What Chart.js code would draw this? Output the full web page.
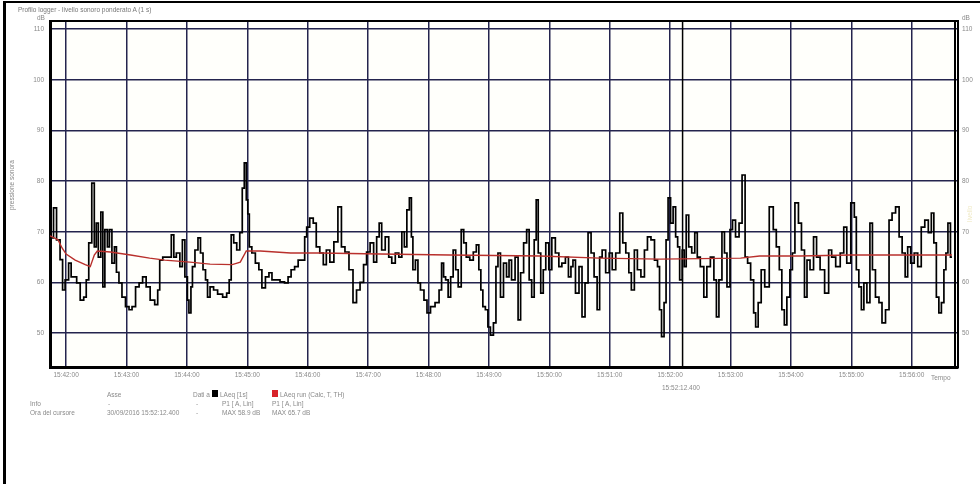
<!DOCTYPE html>
<html>
<head>
<meta charset="utf-8">
<script src="https://cdn.jsdelivr.net/npm/chart.js@4"></script>
<style>
  body { margin: 0; background: #fff; font-family: "Liberation Sans", Arial, sans-serif; }
  #wrap { position: relative; width: 980px; height: 484px; overflow: hidden; }
  #frame { position: absolute; left: 3px; top: 1px; width: 980px; height: 490px; border-left: 3px solid #000; border-top: 2px solid #000; }
  canvas { position: absolute; left: 0; top: 0; }
  .t { position: absolute; font-size: 6.5px; color: #8a8a8a; white-space: nowrap; }
  .sq { position: absolute; width: 6px; height: 7px; }
</style>
</head>
<body>
<div id="wrap">
  <div id="frame"></div>
  <canvas id="myChart" width="980" height="484"></canvas>

  <div class="t" style="left:18px;top:6px;color:#777">Profilo logger - livello sonoro ponderato A (1 s)</div>
  <div class="t" style="left:37px;top:14px">dB</div>
  <div class="t" style="left:962px;top:14px">dB</div>
  <div class="t" style="left:8px;top:210px;transform:rotate(-90deg);transform-origin:left top">pressione sonora</div>
  <div class="t" style="left:966px;top:222px;transform:rotate(-90deg);transform-origin:left top;color:#efe9c4">livello</div>
  <div class="t" style="left:931px;top:374px">Tempo</div>
  <div class="t" style="left:662px;top:384px">15:52:12.400</div>

  <div class="t" style="left:107px;top:391px">Asse</div>
  <div class="t" style="left:30px;top:400px">Info</div>
  <div class="t" style="left:108px;top:400px">-</div>
  <div class="t" style="left:30px;top:409px">Ora del cursore</div>
  <div class="t" style="left:107px;top:409px">30/09/2016 15:52:12.400</div>

  <div class="t" style="left:193px;top:391px">Dati a</div>
  <div class="sq" style="left:212px;top:390px;background:#000"></div>
  <div class="t" style="left:220px;top:391px">LAeq [1s]</div>
  <div class="sq" style="left:272px;top:390px;background:#d8232a"></div>
  <div class="t" style="left:280px;top:391px">LAeq run (Calc, T, TH)</div>
  <div class="t" style="left:196px;top:400px">-</div>
  <div class="t" style="left:222px;top:400px">P1 [ A, Lin]</div>
  <div class="t" style="left:272px;top:400px">P1 [ A, Lin]</div>
  <div class="t" style="left:196px;top:409px">-</div>
  <div class="t" style="left:222px;top:409px">MAX 58.9 dB</div>
  <div class="t" style="left:272px;top:409px">MAX 65.7 dB</div>
</div>

<script>
// seconds after 15:42:00
let tickTimes = [0, 60, 120, 180, 240, 300, 360, 420, 480, 540, 600, 660, 720, 780, 840];
let tickLabels = ["15:42:00", "15:43:00", "15:44:00", "15:45:00", "15:46:00", "15:47:00", "15:48:00",
    "15:49:00", "15:50:00", "15:51:00", "15:52:00", "15:53:00", "15:54:00", "15:55:00", "15:56:00"];
let dbTicks = [50, 60, 70, 80, 90, 100, 110];
let cursorTime = 612.4;

// LAeq 1s (black)
let laeqTime = [-14, -11, -8, -4, -3, 1, 4, 6, 9, 12, 16, 19, 21, 24, 27, 29, 31, 33, 36, 37,
    40, 42, 44, 47, 49, 51, 54, 57, 61, 64, 67, 71, 74, 78, 81, 86, 90, 92, 94, 98,
    103, 106, 108, 111, 115, 116, 120, 121, 123, 125, 126, 130, 132, 135, 137, 140, 141, 145, 148, 153,
    158, 161, 163, 165, 168, 171, 174, 176, 178, 180, 181, 183, 186, 190, 193, 196, 200, 203, 206, 210,
    215, 219, 222, 225, 229, 232, 236, 238, 240, 244, 247, 250, 254, 257, 260, 264, 268, 272, 275, 279,
    283, 287, 290, 294, 297, 300, 304, 307, 310, 312, 315, 319, 322, 325, 329, 332, 335, 337, 340, 342,
    344, 345, 349, 350, 354, 357, 360, 364, 369, 372, 374, 376, 378, 381, 383, 386, 388, 391, 394, 396,
    399, 403, 406, 409, 411, 413, 415, 418, 420, 423, 426, 428, 430, 433, 436, 439, 441, 444, 448, 450,
    453, 456, 459, 461, 464, 466, 468, 470, 473, 475, 478, 481, 484, 488, 491, 494, 498, 500, 503, 504,
    508, 511, 514, 517, 520, 523, 526, 529, 531, 534, 538, 541, 544, 548, 552, 554, 558, 560, 563, 566,
    569, 573, 576, 579, 583, 586, 589, 590, 593, 595, 597, 599, 602, 604, 607, 608, 611, 613, 615, 617,
    620, 623, 626, 628, 632, 635, 638, 642, 645, 647, 650, 653, 655, 658, 661, 663, 667, 670, 673, 676,
    678, 682, 684, 686, 689, 692, 696, 701, 704, 707, 710, 712, 715, 717, 721, 722, 726, 729, 732, 735,
    737, 741, 744, 747, 751, 756, 759, 762, 767, 771, 774, 777, 782, 784, 786, 789, 791, 794, 797, 800,
    802, 806, 809, 812, 816, 819, 822, 826, 829, 832, 835, 837, 841, 844, 848, 851, 855, 858, 861, 863,
    866, 868, 871, 873, 875, 877, 880];
let laeqValues = [68.8, 74.7, 68.4, 64.5, 58.5, 60.5, 63.8, 61.1, 61.1, 59.9, 56.5, 57.1, 60.5, 67.8, 79.6, 67.0, 71.7, 65.0, 73.9, 59.1,
    70.4, 67.0, 70.4, 63.8, 67.0, 62.0, 59.9, 57.1, 55.2, 54.6, 55.2, 59.1, 59.9, 61.1, 59.1, 56.5, 55.6, 58.5, 64.4, 65.0,
    65.0, 69.4, 65.0, 65.8, 63.1, 68.4, 61.1, 56.5, 54.0, 59.1, 63.1, 66.4, 68.8, 65.8, 62.5, 60.5, 57.1, 59.1, 58.5, 57.7,
    57.1, 57.9, 60.5, 69.4, 67.8, 66.4, 69.8, 78.6, 83.6, 76.3, 73.5, 67.0, 65.8, 63.8, 62.5, 58.9, 61.1, 61.9, 60.5, 60.5,
    60.1, 59.9, 61.1, 62.5, 63.1, 64.4, 64.4, 69.0, 70.9, 72.7, 71.7, 67.0, 65.8, 63.5, 66.4, 64.0, 68.0, 74.9, 67.0, 66.0,
    62.5, 56.0, 58.5, 60.0, 63.5, 66.0, 67.8, 64.0, 69.0, 71.7, 66.4, 69.0, 65.0, 63.8, 65.8, 65.0, 70.0, 67.0, 74.3, 76.7,
    69.0, 62.5, 64.4, 59.9, 58.5, 56.5, 54.0, 55.2, 56.0, 58.5, 63.8, 61.1, 60.5, 57.1, 61.1, 66.4, 62.5, 59.1, 70.4, 67.8,
    65.0, 64.4, 66.0, 67.4, 62.5, 58.5, 55.2, 54.6, 51.2, 49.6, 52.0, 63.1, 65.8, 57.1, 63.8, 61.1, 64.4, 60.5, 65.0, 52.6,
    61.9, 67.8, 70.4, 60.5, 57.1, 68.4, 76.3, 65.8, 57.9, 62.5, 67.8, 62.5, 68.8, 65.8, 63.1, 63.8, 65.0, 61.1, 63.1, 64.4,
    57.9, 63.1, 53.2, 59.9, 69.8, 65.8, 61.1, 54.6, 65.0, 66.4, 61.9, 65.8, 62.5, 65.8, 73.7, 67.8, 65.8, 61.9, 58.5, 66.4,
    62.5, 61.1, 66.4, 69.0, 68.4, 64.4, 63.1, 54.6, 49.3, 56.0, 68.4, 76.7, 71.7, 74.9, 69.0, 67.0, 60.5, 66.4, 63.1, 73.3,
    67.0, 65.8, 69.8, 65.0, 63.1, 57.1, 63.1, 65.0, 60.5, 53.2, 60.5, 70.0, 65.8, 59.1, 70.4, 72.3, 69.0, 71.7, 81.2, 65.0,
    63.8, 60.5, 54.0, 51.2, 56.0, 62.5, 59.1, 74.9, 70.4, 67.0, 62.5, 54.6, 51.6, 57.1, 62.5, 65.8, 75.7, 71.7, 66.4, 57.1,
    64.4, 62.5, 69.0, 65.0, 62.5, 57.9, 66.4, 65.0, 63.1, 65.8, 70.9, 63.8, 75.7, 72.9, 62.5, 59.1, 54.6, 59.9, 56.0, 71.7,
    62.5, 57.1, 56.0, 52.0, 54.6, 72.3, 73.7, 74.9, 69.0, 65.8, 61.1, 67.0, 63.8, 65.8, 63.1, 70.9, 72.3, 69.8, 73.7, 67.8,
    57.1, 54.0, 56.0, 62.5, 65.8, 71.7, 65.0];

// LAeq running (red)
let runTime = [-16, -8, -4, 0, 9, 19, 24, 28, 31, 44, 64, 83, 98, 123, 143, 165, 173, 179, 193, 223,
    252, 312, 381, 471, 530, 590, 670, 689, 729, 779, 880];
let runValues = [69.2, 68.4, 66.8, 65.6, 64.4, 63.5, 63.1, 65.4, 66.2, 66.0, 65.4, 64.8, 64.4, 64.0, 63.6, 63.5, 64.0, 66.2, 66.2, 65.8,
    65.8, 65.6, 65.4, 65.2, 64.8, 64.6, 64.8, 65.2, 65.2, 65.4, 65.4];

function points(xs, ys) {
    return xs.map((x, i) => ({ x: x, y: ys[i] }));
}

let gridColor = "#24244e";
let tickFont = { family: "Liberation Sans", size: 6.5 };

let framePlugin = {
    id: "frame",
    beforeDraw(chart) {
        let a = chart.chartArea;
        let ctx = chart.ctx;
        ctx.save();
        ctx.fillStyle = "#fffffb";
        ctx.fillRect(a.left, a.top, a.right - a.left, a.bottom - a.top);
        ctx.restore();
    },
    beforeDatasetsDraw(chart) {
        let a = chart.chartArea;
        let ctx = chart.ctx;
        let cx = chart.scales.x.getPixelForValue(cursorTime);
        ctx.save();
        ctx.strokeStyle = "#000";
        ctx.lineWidth = 1.5;
        ctx.beginPath();
        ctx.moveTo(cx, a.top);
        ctx.lineTo(cx, a.bottom);
        ctx.stroke();
        ctx.restore();
    },
    afterDraw(chart) {
        let a = chart.chartArea;
        let ctx = chart.ctx;
        ctx.save();
        ctx.strokeStyle = "#000";
        ctx.lineWidth = 2;
        ctx.beginPath();
        ctx.moveTo(a.left, a.top);
        ctx.lineTo(a.right + 1, a.top);
        ctx.moveTo(a.right - 3, a.top);
        ctx.lineTo(a.right - 3, a.bottom);
        ctx.stroke();
        ctx.restore();
    }
};

let chart = new Chart(document.getElementById("myChart"), {
    type: "line",
    data: {
        datasets: [{
            label: "LAeq run (Calc, T, TH)",
            data: points(runTime, runValues),
            borderColor: "#b9302c",
            borderWidth: 1.4,
            pointRadius: 0,
            order: 0,
            yAxisID: "y"
        }, {
            label: "LAeq [1s]",
            data: points(laeqTime, laeqValues),
            borderColor: "#000",
            borderWidth: 1.7,
            stepped: "middle",
            pointRadius: 0,
            order: 1,
            yAxisID: "y"
        }]
    },
    options: {
        responsive: false,
        animation: false,
        layout: { padding: { top: 21 } },
        plugins: { legend: { display: false }, tooltip: { enabled: false } },
        scales: {
            x: {
                type: "linear",
                min: -16,
                max: 886,
                afterFit: s => { s.height = 117; },
                afterBuildTicks: s => { s.ticks = tickTimes.map(v => ({ value: v })); },
                ticks: {
                    autoSkip: false,
                    maxRotation: 0,
                    padding: 4,
                    color: "#8a8a8a",
                    font: tickFont,
                    callback: (v) => tickLabels[tickTimes.indexOf(v)]
                },
                grid: { color: gridColor, lineWidth: 1.5, drawTicks: false },
                border: { color: "#000", width: 3 }
            },
            y: {
                position: "left",
                min: 43.3,
                max: 111.6,
                afterFit: s => { s.width = 50; },
                afterBuildTicks: s => { s.ticks = dbTicks.map(v => ({ value: v })); },
                ticks: { color: "#8a8a8a", font: tickFont, padding: 6 },
                grid: { color: gridColor, lineWidth: 1.5, drawTicks: false },
                border: { color: "#000", width: 3 }
            },
            y2: {
                position: "right",
                min: 43.3,
                max: 111.6,
                afterFit: s => { s.width = 22; },
                afterBuildTicks: s => { s.ticks = dbTicks.map(v => ({ value: v })); },
                ticks: { color: "#8a8a8a", font: tickFont, padding: 4 },
                grid: { display: false, drawTicks: false },
                border: { color: "#000", width: 2 }
            }
        }
    },
    plugins: [framePlugin]
});
</script>
</body>
</html>
